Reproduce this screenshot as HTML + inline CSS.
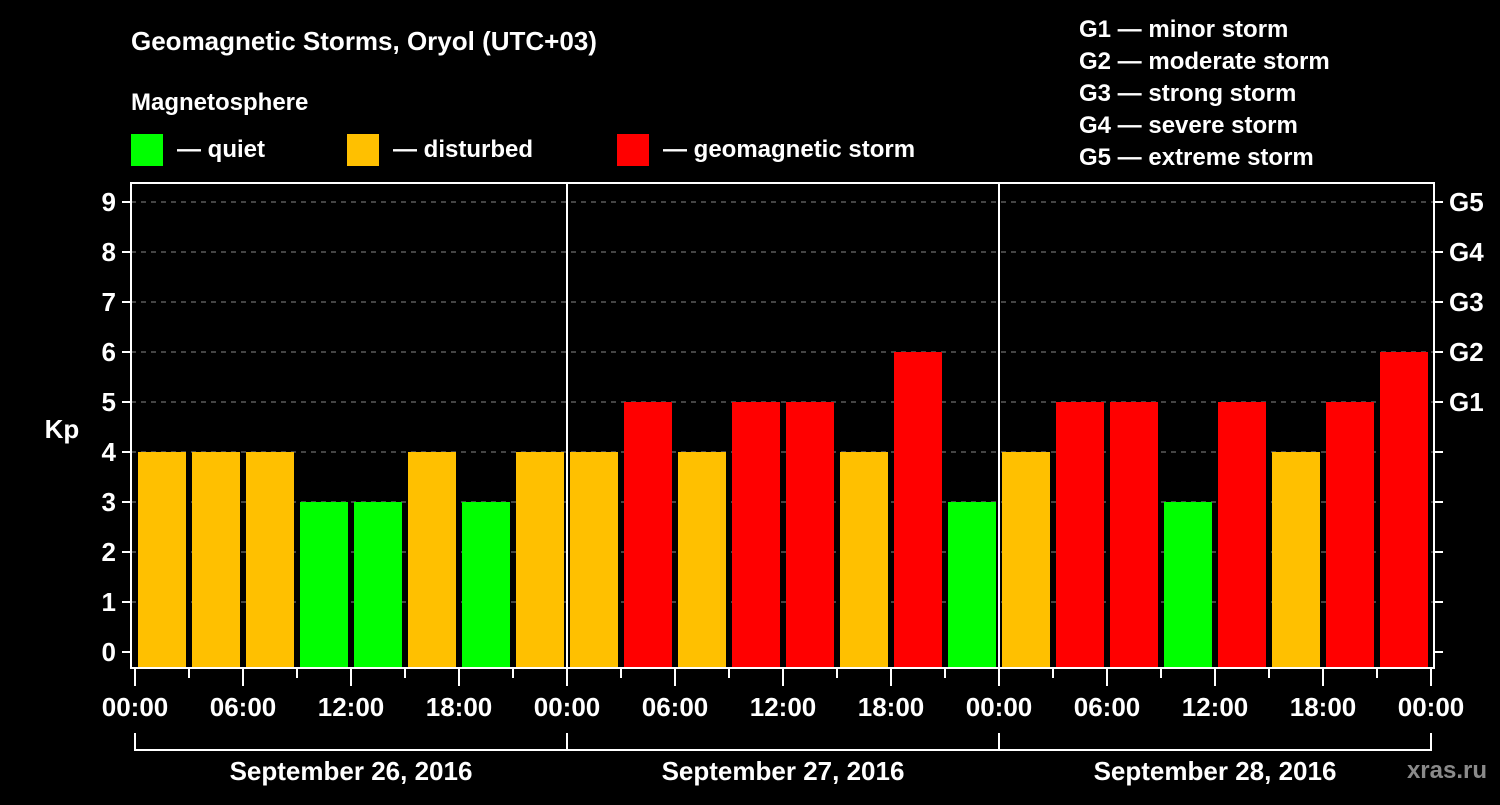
<!DOCTYPE html>
<html><head><meta charset="utf-8"><style>
body{margin:0;background:#000;width:1500px;height:800px;overflow:hidden;font-family:"Liberation Sans",sans-serif;}
svg text{font-family:"Liberation Sans",sans-serif;font-weight:bold;fill:#fff;}
</style></head><body>
<svg id="c" width="1500" height="800">
<text x="131" y="50" font-size="26">Geomagnetic Storms, Oryol (UTC+03)</text>
<text x="131" y="110" font-size="24">Magnetosphere</text>
<rect x="131" y="134" width="32" height="32" fill="#00ff00"/>
<text x="177" y="157" font-size="24">— quiet</text>
<rect x="347" y="134" width="32" height="32" fill="#ffc000"/>
<text x="393" y="157" font-size="24">— disturbed</text>
<rect x="617" y="134" width="32" height="32" fill="#ff0000"/>
<text x="663" y="157" font-size="24">— geomagnetic storm</text>
<g font-size="24">
<text x="1079" y="37">G1 — minor storm</text>
<text x="1079" y="69">G2 — moderate storm</text>
<text x="1079" y="101">G3 — strong storm</text>
<text x="1079" y="133">G4 — severe storm</text>
<text x="1079" y="165">G5 — extreme storm</text>
</g>
<text x="62" y="438" font-size="26" text-anchor="middle">Kp</text>
<text x="1487" y="778" font-size="24" text-anchor="end" fill="#888" style="fill:#8a8a8a">xras.ru</text>
<g id="grid"></g><g id="bars"></g><g id="axes"></g>
</svg>
<script>
const days = ["September 26, 2016","September 27, 2016","September 28, 2016"];
const kpDay1 = [4,4,4,3,3,4,3,4];
const kpDay2 = [4,5,4,5,5,4,6,3];
const kpDay3 = [4,5,5,3,5,4,5,6];
const yTicks = [0,1,2,3,4,5,6,7,8,9];
const gLabels = ["G1","G2","G3","G4","G5"];
const xTickLabels = ["00:00","06:00","12:00","18:00"];
const kp = kpDay1.concat(kpDay2, kpDay3);
const NS="http://www.w3.org/2000/svg";
const L=131,R=1434,T=183,B=668,X0=135,HPX=18;
const y=v=>652-50*v;
const x=h=>X0+h*HPX;
function mk(tag,attrs,parent,txt){const e=document.createElementNS(NS,tag);for(const k in attrs)e.setAttribute(k,attrs[k]);if(txt!==undefined)e.textContent=txt;document.getElementById(parent).appendChild(e);return e;}
yTicks.forEach(v=>{
  if(v>0){const g=mk('line',{x1:L,x2:R,y1:y(v),y2:y(v),stroke:'#888','stroke-dasharray':'5,5','stroke-width':1},'grid');
  
  }
  const t=mk('line',{x1:122,x2:L,y1:y(v),y2:y(v),stroke:'#fff','stroke-width':2},'axes');
  
  
  const t2=mk('line',{x1:R,x2:1443,y1:y(v),y2:y(v),stroke:'#fff','stroke-width':2},'axes');
  
  
  const lb=mk('text',{x:116,y:y(v)+9,'font-size':26,'text-anchor':'end'},'axes',String(v));
  
  
});
gLabels.forEach((g,i)=>{
  const lb=mk('text',{x:1449,y:y(5+i)+9,'font-size':26},'axes',g);
  
  
});
kp.forEach((v,i)=>{
  const c=v>=5?'#ff0000':(v>=4?'#ffc000':'#00ff00');
  const r=mk('rect',{x:x(i*3)+3,y:y(v),width:48,height:B-y(v),fill:c},'bars');
  
  
});
const fr=mk('rect',{x:L,y:T,width:R-L,height:B-T,fill:'none',stroke:'#fff','stroke-width':2},'axes');


for(let h=0;h<=72;h+=3){
  const major=h%6===0;
  const t=mk('line',{x1:x(h),x2:x(h),y1:B,y2:major?686:678,stroke:'#fff','stroke-width':2},'axes');
  
  
  if(major){
    const lb=mk('text',{x:x(h),y:716,'font-size':26,'text-anchor':'middle'},'axes',xTickLabels[(h%24)/6]);
    
    
  }
}
days.forEach((d,i)=>{
  if(i>0){const s=mk('line',{x1:x(24*i),x2:x(24*i),y1:T,y2:B,stroke:'#fff','stroke-width':2},'axes');
  
  }
  const br=mk('polyline',{points:`${x(24*i)},733 ${x(24*i)},750 ${x(24*i+24)},750 ${x(24*i+24)},733`,fill:'none',stroke:'#fff','stroke-width':2},'axes');
  
  
  const lb=mk('text',{x:x(24*i+12),y:780,'font-size':26,'text-anchor':'middle'},'axes',d);
  
  
});
</script>
</body></html>
